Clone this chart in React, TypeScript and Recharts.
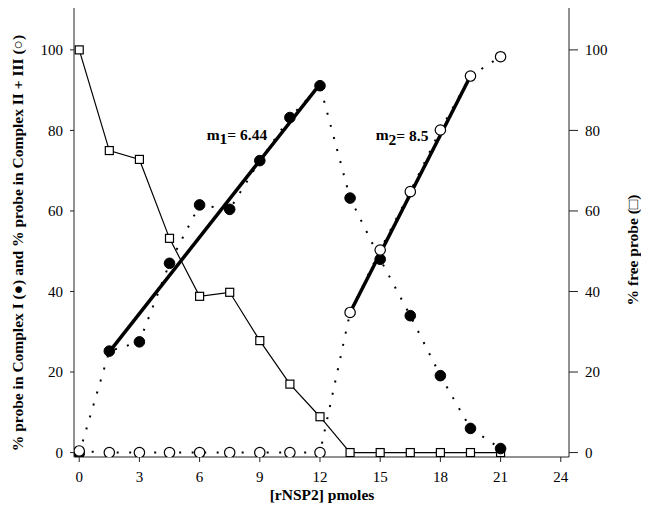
import React from 'react';
import { ComposedChart, Line, XAxis, YAxis, ReferenceDot } from 'recharts';

const doseX = [0, 1.5, 3, 4.5, 6, 7.5, 9, 10.5, 12, 13.5, 15, 16.5, 18, 19.5, 21];
const freeProbe = [100, 75, 72.8, 53.2, 38.8, 39.8, 27.8, 17, 8.9, 0, 0, 0, 0, 0, 0];
const complexI = [-0.2, 25.2, 27.5, 47, 61.5, 60.4, 72.5, 83.2, 91.1, 63.2, 48, 34, 19.1, 6, 1];
const complexIIIII = [0.4, 0, 0, 0, 0, 0, 0, 0, 0, 34.8, 50.3, 64.8, 80.1, 93.5, 98.3];
const fit1X = [1.5, 12];
const fit1Y = [25, 91.5];
const fit2X = [13.5, 19.5];
const fit2Y = [34.8, 93.5];
const xTicks = [0, 3, 6, 9, 12, 15, 18, 21, 24];
const yTicks = [0, 20, 40, 60, 80, 100];

const toPts = (xs: number[], ys: number[]) => xs.map((x, i) => ({ x, y: ys[i] }));
const freeData = toPts(doseX, freeProbe);
const c1Data = toPts(doseX, complexI);
const c23Data = toPts(doseX, complexIIIII);
const fit1Data = toPts(fit1X, fit1Y);
const fit2Data = toPts(fit2X, fit2Y);

const SERIF = '"Liberation Serif", "Times New Roman", Times, serif';
const tickTextStyle: React.CSSProperties = { fontFamily: SERIF, fontSize: 15, fill: '#000' };
const titleStyle: React.CSSProperties = { fontFamily: SERIF, fontSize: 15.5, fontWeight: 'bold', fill: '#000' };

const XTick = (props: any) => {
  const { x, y, payload } = props;
  return (
    <text x={x} y={y} textAnchor="middle" dy="0.71em" style={tickTextStyle}>
      {payload.value}
    </text>
  );
};
const LeftTick = (props: any) => {
  const { x, y, payload } = props;
  return (
    <text x={x} y={y} textAnchor="end" dy="0.35em" style={tickTextStyle}>
      {payload.value}
    </text>
  );
};
const RightTick = (props: any) => {
  const { x, y, payload } = props;
  return (
    <text x={x} y={y} textAnchor="start" dy="0.35em" style={tickTextStyle}>
      {payload.value}
    </text>
  );
};

const SquareDot = (props: any) => {
  const { cx, cy, index } = props;
  if (cx == null || cy == null) return <g key={`s${index}`} />;
  return <rect key={`s${index}`} x={cx - 4} y={cy - 4} width={8} height={8} fill="#fff" stroke="#000" strokeWidth={1.2} />;
};
const FilledDot = (props: any) => {
  const { cx, cy, index } = props;
  if (cx == null || cy == null) return <g key={`f${index}`} />;
  return <circle key={`f${index}`} cx={cx} cy={cy} r={5.3} fill="#000" stroke="#000" />;
};
const OpenDot = (props: any) => {
  const { cx, cy, index } = props;
  if (cx == null || cy == null) return <g key={`o${index}`} />;
  return <circle key={`o${index}`} cx={cx} cy={cy} r={5.2} fill="#fff" stroke="#000" strokeWidth={1.2} />;
};

const SlopeLabel = (sub: string, rest: string) => (props: any) => {
  const { cx, cy } = props;
  if (cx == null || cy == null) return <g />;
  return (
    <text x={cx} y={cy} textAnchor="middle" dominantBaseline="central" style={titleStyle}>
      m<tspan dy={4}>{sub}</tspan><tspan dy={-4}>{rest}</tspan>
    </text>
  );
};

export default function App() {
  return (
    <div style={{ width: 641, height: 516 }}>
      <ComposedChart width={641} height={516} margin={{ top: 0, right: 0, bottom: 0, left: 0 }}>
        <XAxis
          type="number"
          dataKey="x"
          domain={[-0.26, 24.41]}
          allowDataOverflow
          ticks={xTicks}
          tickSize={5}
          tickMargin={9}
          height={67}
          stroke="#222"
          tick={XTick}
          label={{
            content: () => (
              <text x={314} y={486} textAnchor="middle" dominantBaseline="central" style={titleStyle}>
                [rNSP2] pmoles
              </text>
            ),
          }}
        />
        <YAxis
          yAxisId="left"
          type="number"
          domain={[-1.1, 110.4]}
          allowDataOverflow
          ticks={yTicks}
          tickSize={4}
          tickMargin={7}
          width={66}
          stroke="#222"
          tick={LeftTick}
          label={{
            content: () => (
              <text x={9} y={235} textAnchor="middle" dominantBaseline="central" transform="rotate(-90, 9, 235)" style={titleStyle}>
                % probe in Complex I (●) and % probe in Complex II + III (○)
              </text>
            ),
          }}
        />
        <YAxis
          yAxisId="right"
          orientation="right"
          type="number"
          domain={[-1.1, 110.4]}
          allowDataOverflow
          ticks={yTicks}
          tickSize={9}
          tickMargin={7}
          width={80}
          stroke="#222"
          tick={RightTick}
          label={{
            content: () => (
              <text x={624} y={242} textAnchor="middle" dominantBaseline="central" transform="rotate(-90, 624, 242)" style={titleStyle}>
                % free probe (□)
              </text>
            ),
          }}
        />
        <Line yAxisId="left" data={fit1Data} dataKey="y" stroke="#000" strokeWidth={3.5} dot={false} isAnimationActive={false} />
        <Line yAxisId="left" data={fit2Data} dataKey="y" stroke="#000" strokeWidth={3.5} dot={false} isAnimationActive={false} />
        <Line yAxisId="right" data={freeData} dataKey="y" stroke="#000" strokeWidth={1.2} dot={SquareDot} isAnimationActive={false} />
        <Line yAxisId="left" data={c1Data} dataKey="y" stroke="#000" strokeWidth={2} strokeDasharray="2 10.5" dot={FilledDot} isAnimationActive={false} />
        <Line yAxisId="left" data={c23Data} dataKey="y" stroke="#000" strokeWidth={2} strokeDasharray="2 10.5" dot={OpenDot} isAnimationActive={false} />
        <ReferenceDot yAxisId="left" x={7.86} y={79.1} r={0} shape={SlopeLabel('1', '= 6.44')} />
        <ReferenceDot yAxisId="left" x={16.09} y={78.9} r={0} shape={SlopeLabel('2', '= 8.5')} />
      </ComposedChart>
    </div>
  );
}
